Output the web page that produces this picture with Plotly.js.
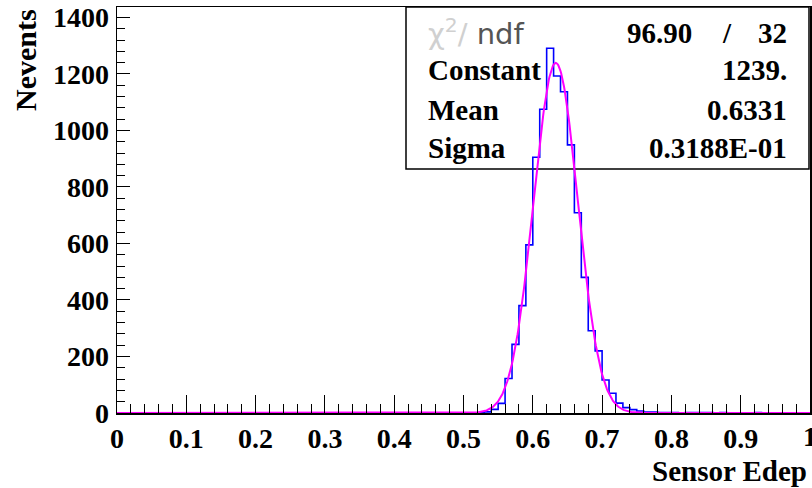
<!DOCTYPE html>
<html>
<head>
<meta charset="utf-8">
<script src="https://cdn.plot.ly/plotly-3.0.1.min.js"></script>
<style>html,body{margin:0;padding:0;background:#fff;}#chart{width:812px;height:488px;}</style>
</head>
<body>
<div id="chart"></div>
<script>
// Histogram: 100 bins from 0 to 1
const histMin = 0, histMax = 1, nBins = 100;
// bin contents (bins 0..99); only bins 52..92 non-zero
const binContents = [
  0,0,0,0,0,0,0,0,0,0,
  0,0,0,0,0,0,0,0,0,0,
  0,0,0,0,0,0,0,0,0,0,
  0,0,0,0,0,0,0,0,0,0,
  0,0,0,0,0,0,0,0,0,0,
  0,0,1,4,13,34,122,243,380,595,
  905,1075,1291,1193,1137,949,709,480,291,220,
  117,70,35,19,12,7,3,3,2,2,
  2,1,2,2,2,2,0,2,0,0,
  0,0,2,0,0,0,0,0,0,0
];
// Gaussian fit parameters (from stats box)
const fitConstant = 1239, fitMean = 0.6331, fitSigma = 0.03188;
const chi2 = "96.90", ndf = "32";
const statNames = ["Constant", "Mean", "Sigma"];
const statValues = ["1239.", "0.6331", "0.3188E-01"];
const xTickVals = [0,0.1,0.2,0.3,0.4,0.5,0.6,0.7,0.8,0.9,1];
const xTickText = ["0","0.1","0.2","0.3","0.4","0.5","0.6","0.7","0.8","0.9","1"];
const yTickVals = [0,200,400,600,800,1000,1200,1400];
const yTickText = ["0","200","400","600","800","1000","1200","1400"];

const bw = (histMax - histMin) / nBins;
const hx = [], hy = [];
for (let i = 0; i < nBins; i++) { hx.push(histMin + i * bw); hy.push(binContents[i]); }
hx.push(histMax); hy.push(binContents[nBins - 1]);

const fx = [], fy = [];
const nF = 1000;
for (let i = 0; i <= nF; i++) {
  const x = histMin + (histMax - histMin) * i / nF;
  fx.push(x);
  fy.push(fitConstant * Math.exp(-0.5 * Math.pow((x - fitMean) / fitSigma, 2)));
}

const W = 812, H = 488;
const mL = 117, mR = 2, mT = 7, mB = 75;
const pw = W - mL - mR, ph = H - mT - mB;
const px = v => (v - mL) / pw;
const py = v => (H - mB - v) / ph;

const fam = "Liberation Serif, Times New Roman, serif";
const tickFont = {family: fam, size: 28, color: "#000", weight: "bold"};
const serif = {family: fam, size: 29, color: "#000", weight: "bold"};

const traces = [
  {x: hx, y: hy, type: "scatter", mode: "lines", line: {shape: "hv", color: "#0000ff", width: 1.6}, hoverinfo: "skip"},
  {x: fx, y: fy, type: "scatter", mode: "lines", line: {color: "#ff00ff", width: 2}, hoverinfo: "skip"}
];

const ann = [];
const rowsY = [70, 110, 148];
statNames.forEach((n, i) => {
  ann.push({xref: "paper", yref: "paper", x: px(426), y: py(rowsY[i]), xanchor: "left", yanchor: "middle", text: n, showarrow: false, font: serif});
  ann.push({xref: "paper", yref: "paper", x: px(789), y: py(rowsY[i]), xanchor: "right", yanchor: "middle", text: statValues[i], showarrow: false, font: serif});
});
ann.push({xref: "paper", yref: "paper", x: px(694), y: py(33), xanchor: "right", yanchor: "middle", text: chi2, showarrow: false, font: serif});
ann.push({xref: "paper", yref: "paper", x: px(727), y: py(33), xanchor: "center", yanchor: "middle", text: "/", showarrow: false, font: serif});
ann.push({xref: "paper", yref: "paper", x: px(789), y: py(33), xanchor: "right", yanchor: "middle", text: ndf, showarrow: false, font: serif});
ann.push({xref: "paper", yref: "paper", x: px(426), y: py(32), xanchor: "left", yanchor: "middle",
  text: '<span style="color:#d0d0d0">χ<sup>2</sup>/</span><span style="color:#555"> ndf</span>', showarrow: false,
  font: {family: "DejaVu Sans, sans-serif", size: 29, color: "#d0d0d0"}});
ann.push({xref: "paper", yref: "paper", x: px(25), y: 1, xanchor: "center", yanchor: "top", textangle: -90, text: "Nevents", showarrow: false, font: {family: fam, size: 30, color: "#000", weight: "bold"}});
ann.push({xref: "paper", yref: "paper", x: px(809), y: py(471), xanchor: "right", yanchor: "middle", text: "Sensor Edep", showarrow: false, font: serif});
// last x tick label (partly outside the canvas, as in the reference)
ann.push({xref: "x", yref: "paper", x: xTickVals[10], y: py(437), xanchor: "center", yanchor: "middle", text: xTickText[10], showarrow: false, font: tickFont});

const layout = {
  width: W, height: H,
  margin: {l: mL, r: mR, t: mT, b: mB, pad: 0},
  paper_bgcolor: "#fff", plot_bgcolor: "#fff",
  showlegend: false,
  xaxis: {
    range: [histMin, histMax], tickmode: "array", tickvals: xTickVals, ticktext: xTickText,
    ticks: "inside", ticklen: 18, tickwidth: 1, tickcolor: "#000",
    showline: true, linecolor: "#000", linewidth: 1.5, mirror: true,
    showgrid: false, zeroline: false, tickfont: tickFont, ticklabelstandoff: 0, automargin: false,
    minor: {tickmode: "linear", tick0: 0, dtick: 0.02, ticks: "inside", ticklen: 9, tickwidth: 1, tickcolor: "#000", showgrid: false}
  },
  yaxis: {
    range: [0, 1437], tickmode: "array", tickvals: yTickVals, ticktext: yTickText,
    ticks: "inside", ticklen: 13, tickwidth: 1, tickcolor: "#000",
    showline: true, linecolor: "#000", linewidth: 1.5, mirror: true,
    showgrid: false, zeroline: false, tickfont: tickFont, ticklabelstandoff: 1, automargin: false,
    minor: {tickmode: "linear", tick0: 0, dtick: 40, ticks: "inside", ticklen: 8, tickwidth: 1, tickcolor: "#000", showgrid: false}
  },
  shapes: [
    {type: "rect", xref: "paper", yref: "paper", x0: px(406), x1: px(809), y0: py(169), y1: py(7),
     line: {color: "#000", width: 1.5}, fillcolor: "rgba(255,255,255,0)", layer: "below"}
  ],
  annotations: ann
};

Plotly.newPlot("chart", traces, layout, {staticPlot: true, displayModeBar: false});
</script>
</body>
</html>
